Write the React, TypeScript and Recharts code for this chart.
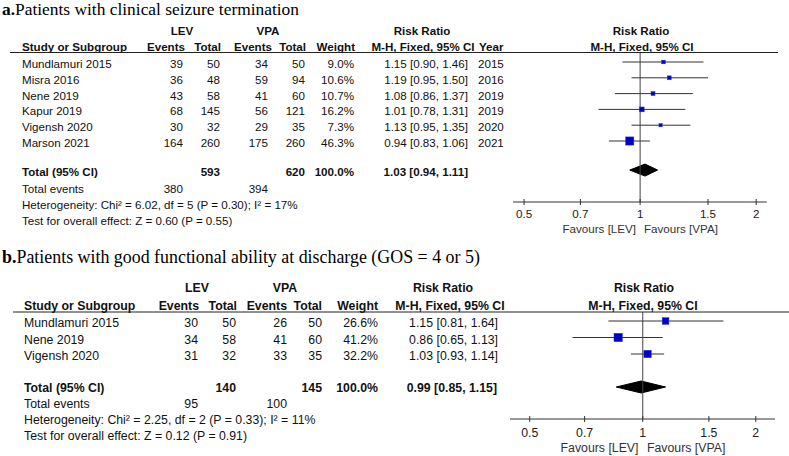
import React from "react";
import { ComposedChart, XAxis, YAxis, Scatter, Line, Area, ReferenceLine } from "recharts";

// panel a: clinical seizure termination
const studiesA = ["Mundlamuri 2015", "Misra 2016", "Nene 2019", "Kapur 2019", "Vigensh 2020", "Marson 2021"];
const levEventsA = [39, 36, 43, 68, 30, 164];
const levTotalA = [50, 48, 58, 145, 32, 260];
const vpaEventsA = [34, 59, 41, 56, 29, 175];
const vpaTotalA = [50, 94, 60, 121, 35, 260];
const weightA = [9.0, 10.6, 10.7, 16.2, 7.3, 46.3];
const rrA = [1.15, 1.19, 1.08, 1.01, 1.13, 0.94];
const loA = [0.9, 0.95, 0.86, 0.78, 0.95, 0.83];
const hiA = [1.46, 1.5, 1.37, 1.31, 1.35, 1.06];
const yearA = [2015, 2016, 2019, 2019, 2020, 2021];
const pooledA = [1.03, 0.94, 1.11];
const sumTotalA = [593, 620];
const sumEventsA = [380, 394];
const hetA = "Heterogeneity: Chi² = 6.02, df = 5 (P = 0.30); I² = 17%";
const testA = "Test for overall effect: Z = 0.60 (P = 0.55)";

// panel b: good functional ability at discharge
const studiesB = ["Mundlamuri 2015", "Nene 2019", "Vigensh 2020"];
const levEventsB = [30, 34, 31];
const levTotalB = [50, 58, 32];
const vpaEventsB = [26, 41, 33];
const vpaTotalB = [50, 60, 35];
const weightB = [26.6, 41.2, 32.2];
const rrB = [1.15, 0.86, 1.03];
const loB = [0.81, 0.65, 0.93];
const hiB = [1.64, 1.13, 1.14];
const pooledB = [0.99, 0.85, 1.15];
const sumTotalB = [140, 145];
const sumEventsB = [95, 100];
const hetB = "Heterogeneity: Chi² = 2.25, df = 2 (P = 0.33); I² = 11%";
const testB = "Test for overall effect: Z = 0.12 (P = 0.91)";

const axisTicks = [0.5, 0.7, 1, 1.5, 2];

const SANS = "'Liberation Sans', Arial, sans-serif";
const SERIF = "'Liberation Serif', 'Times New Roman', serif";
const W = 789;

const f2 = (v: number) => v.toFixed(2);
const ci = (r: number, l: number, h: number) => `${f2(r)} [${f2(l)}, ${f2(h)}]`;

type Layout = {
  height: number;
  plotTop: number;
  plotLeft: number;
  plotRight: number;
  axisH: number;
  xDomain: [number, number];
  row0: number;
  rowH: number;
  totalSlot: number;
  sqK: number;
  fs: number;
  labelDy: number;
};

function T({ x, y, a = "start", b = false, s, fill = "#111", children }: any) {
  return (
    <text x={x} y={y} textAnchor={a} fontWeight={b ? "bold" : "normal"} fontSize={s} fontFamily={SANS} fill={fill}>
      {children}
    </text>
  );
}

function ForestChart({ L, rr, lo, hi, w, pooled }: { L: Layout; rr: number[]; lo: number[]; hi: number[]; w: number[]; pooled: number[] }) {
  const plotBottom = L.height - L.axisH;
  const yDomain: [number, number] = [-(L.row0 - L.plotTop) / L.rowH, (plotBottom - L.row0) / L.rowH];
  const points = rr.map((v, i) => ({ x: v, y: i, w: w[i] }));
  const halfH = 6 / L.rowH;
  const diamond = [
    { x: pooled[1], band: [L.totalSlot, L.totalSlot] },
    { x: pooled[0], band: [L.totalSlot - halfH, L.totalSlot + halfH] },
    { x: pooled[2], band: [L.totalSlot, L.totalSlot] },
  ];

  const Square = (p: any) => {
    const s = L.sqK * Math.sqrt(p.payload.w);
    return <rect x={p.cx - s / 2} y={p.cy - s / 2} width={s} height={s} fill="#0000C8" stroke="#3030d8" strokeWidth={0.5} />;
  };

  const Tick = (p: any) => (
    <g>
      <line x1={p.x} x2={p.x} y1={p.y - 3} y2={p.y + 3} stroke="#333" />
      <text x={p.x} y={p.y + L.labelDy} textAnchor="middle" fontSize={L.fs} fontFamily={SANS} fill="#222">
        {p.payload.value}
      </text>
    </g>
  );

  return (
    <ComposedChart
      width={W}
      height={L.height}
      margin={{ top: L.plotTop, left: L.plotLeft, right: W - L.plotRight, bottom: 0 }}
    >
      <XAxis
        type="number"
        dataKey="x"
        scale="log"
        domain={L.xDomain}
        allowDataOverflow
        ticks={axisTicks}
        interval={0}
        height={L.axisH}
        tickSize={0}
        tickMargin={0}
        tickLine={false}
        axisLine={{ stroke: "#333" }}
        tick={Tick}
      />
      <YAxis type="number" dataKey="y" domain={yDomain} reversed hide width={0} allowDataOverflow />
      {rr.map((_, i) => (
        <Line
          key={i}
          data={[
            { x: lo[i], y: i },
            { x: hi[i], y: i },
          ]}
          dataKey="y"
          type="linear"
          stroke="#333"
          strokeWidth={1}
          dot={false}
          activeDot={false}
          isAnimationActive={false}
        />
      ))}
      <ReferenceLine x={1} stroke="#444" strokeWidth={1} />
      <Scatter data={points} shape={Square} isAnimationActive={false} />
      <Area
        data={diamond}
        dataKey="band"
        type="linear"
        stroke="#000"
        fill="#000"
        fillOpacity={1}
        dot={false}
        activeDot={false}
        isAnimationActive={false}
      />
    </ComposedChart>
  );
}

const layoutA: Layout = {
  height: 240,
  plotTop: 52.5,
  plotLeft: 513,
  plotRight: 766.7,
  axisH: 38,
  xDomain: [0.468, 2.13],
  row0: 62,
  rowH: 15.8,
  totalSlot: 6.84,
  sqK: 1.2,
  fs: 11.6,
  labelDy: 16,
};

const layoutB: Layout = {
  height: 216,
  plotTop: 72,
  plotLeft: 510,
  plotRight: 775,
  axisH: 37,
  xDomain: [0.443, 2.25],
  row0: 81,
  rowH: 16.5,
  totalSlot: 4,
  sqK: 1.3,
  fs: 12.3,
  labelDy: 18.3,
};

function PanelA() {
  const L = layoutA;
  const s = L.fs;
  const rowY = (i: number) => L.row0 + i * L.rowH + 6;
  const totY = 176;
  return (
    <div style={{ position: "absolute", left: 0, top: 0, width: W, height: L.height }}>
      <ForestChart L={L} rr={rrA} lo={loA} hi={hiA} w={weightA} pooled={pooledA} />
      <svg width={W} height={L.height} style={{ position: "absolute", left: 0, top: 0, pointerEvents: "none" }}>
        <text x={2} y={15} fontFamily={SERIF} fontSize={17.4} fill="#000">
          <tspan fontWeight="bold">a.</tspan>Patients with clinical seizure termination
        </text>
        <T x={182} y={35} a="middle" b s={s}>LEV</T>
        <T x={268} y={35} a="middle" b s={s}>VPA</T>
        <T x={422} y={35} a="middle" b s={s}>Risk Ratio</T>
        <T x={641} y={35} a="middle" b s={s}>Risk Ratio</T>
        <T x={22} y={50.5} b s={s}>Study or Subgroup</T>
        <T x={185} y={50.5} a="end" b s={s}>Events</T>
        <T x={221} y={50.5} a="end" b s={s}>Total</T>
        <T x={272} y={50.5} a="end" b s={s}>Events</T>
        <T x={306} y={50.5} a="end" b s={s}>Total</T>
        <T x={355} y={50.5} a="end" b s={s}>Weight</T>
        <T x={423} y={50.5} a="middle" b s={s}>M-H, Fixed, 95% CI</T>
        <T x={479} y={50.5} b s={s}>Year</T>
        <T x={642} y={50.5} a="middle" b s={s}>M-H, Fixed, 95% CI</T>
        <line x1={10} x2={778} y1={52.5} y2={52.5} stroke="#222" strokeWidth={1} />
        {studiesA.map((name, i) => (
          <g key={name}>
            <T x={22} y={rowY(i)} s={s}>{name}</T>
            <T x={183} y={rowY(i)} a="end" s={s}>{levEventsA[i]}</T>
            <T x={220} y={rowY(i)} a="end" s={s}>{levTotalA[i]}</T>
            <T x={268} y={rowY(i)} a="end" s={s}>{vpaEventsA[i]}</T>
            <T x={305} y={rowY(i)} a="end" s={s}>{vpaTotalA[i]}</T>
            <T x={354} y={rowY(i)} a="end" s={s}>{weightA[i].toFixed(1)}%</T>
            <T x={468} y={rowY(i)} a="end" s={s}>{ci(rrA[i], loA[i], hiA[i])}</T>
            <T x={478} y={rowY(i)} s={s}>{yearA[i]}</T>
          </g>
        ))}
        <T x={22} y={totY} b s={s}>Total (95% CI)</T>
        <T x={220} y={totY} a="end" b s={s}>{sumTotalA[0]}</T>
        <T x={305} y={totY} a="end" b s={s}>{sumTotalA[1]}</T>
        <T x={354} y={totY} a="end" b s={s}>100.0%</T>
        <T x={468} y={totY} a="end" b s={s}>{ci(pooledA[0], pooledA[1], pooledA[2])}</T>
        <T x={22} y={193} s={s}>Total events</T>
        <T x={183} y={193} a="end" s={s}>{sumEventsA[0]}</T>
        <T x={268} y={193} a="end" s={s}>{sumEventsA[1]}</T>
        <T x={22} y={209} s={s}>{hetA}</T>
        <T x={22} y={225} s={s}>{testA}</T>
        <T x={636} y={233} a="end" s={s} fill="#333">Favours [LEV]</T>
        <T x={644} y={233} s={s} fill="#333">Favours [VPA]</T>
      </svg>
    </div>
  );
}

function PanelB() {
  const L = layoutB;
  const s = L.fs;
  const rowY = (i: number) => L.row0 + i * L.rowH + 6.3;
  const totY = 152.3;
  return (
    <div style={{ position: "absolute", left: 0, top: 240, width: W, height: L.height }}>
      <ForestChart L={L} rr={rrB} lo={loB} hi={hiB} w={weightB} pooled={pooledB} />
      <svg width={W} height={L.height} style={{ position: "absolute", left: 0, top: 0, pointerEvents: "none" }}>
        <text x={2} y={23} fontFamily={SERIF} fontSize={17.9} fill="#000">
          <tspan fontWeight="bold">b.</tspan>Patients with good functional ability at discharge (GOS = 4 or 5)
        </text>
        <T x={197} y={52.3} a="middle" b s={s}>LEV</T>
        <T x={285} y={52.3} a="middle" b s={s}>VPA</T>
        <T x={443} y={52.3} a="middle" b s={s}>Risk Ratio</T>
        <T x={644} y={52.3} a="middle" b s={s}>Risk Ratio</T>
        <T x={24} y={69.5} b s={s}>Study or Subgroup</T>
        <T x={199} y={69.5} a="end" b s={s}>Events</T>
        <T x={237} y={69.5} a="end" b s={s}>Total</T>
        <T x={287} y={69.5} a="end" b s={s}>Events</T>
        <T x={322} y={69.5} a="end" b s={s}>Total</T>
        <T x={378} y={69.5} a="end" b s={s}>Weight</T>
        <T x={450} y={69.5} a="middle" b s={s}>M-H, Fixed, 95% CI</T>
        <T x={643} y={69.5} a="middle" b s={s}>M-H, Fixed, 95% CI</T>
        <line x1={13} x2={789} y1={72} y2={72} stroke="#222" strokeWidth={1} />
        {studiesB.map((name, i) => (
          <g key={name}>
            <T x={24} y={rowY(i)} s={s}>{name}</T>
            <T x={198} y={rowY(i)} a="end" s={s}>{levEventsB[i]}</T>
            <T x={236} y={rowY(i)} a="end" s={s}>{levTotalB[i]}</T>
            <T x={287} y={rowY(i)} a="end" s={s}>{vpaEventsB[i]}</T>
            <T x={322} y={rowY(i)} a="end" s={s}>{vpaTotalB[i]}</T>
            <T x={378} y={rowY(i)} a="end" s={s}>{weightB[i].toFixed(1)}%</T>
            <T x={498} y={rowY(i)} a="end" s={s}>{ci(rrB[i], loB[i], hiB[i])}</T>
          </g>
        ))}
        <T x={24} y={totY} b s={s}>Total (95% CI)</T>
        <T x={236} y={totY} a="end" b s={s}>{sumTotalB[0]}</T>
        <T x={322} y={totY} a="end" b s={s}>{sumTotalB[1]}</T>
        <T x={378} y={totY} a="end" b s={s}>100.0%</T>
        <T x={497} y={totY} a="end" b s={s}>{ci(pooledB[0], pooledB[1], pooledB[2])}</T>
        <T x={24} y={168} s={s}>Total events</T>
        <T x={198} y={168} a="end" s={s}>{sumEventsB[0]}</T>
        <T x={287} y={168} a="end" s={s}>{sumEventsB[1]}</T>
        <T x={24} y={184} s={s}>{hetB}</T>
        <T x={24} y={200} s={s}>{testB}</T>
        <T x={638.5} y={212.3} a="end" s={s} fill="#333">Favours [LEV]</T>
        <T x={647} y={212.3} s={s} fill="#333">Favours [VPA]</T>
      </svg>
    </div>
  );
}

export default function App() {
  return (
    <div style={{ position: "absolute", left: 0, top: 0, width: W, height: 456, background: "#fff", overflow: "hidden" }}>
      <PanelA />
      <PanelB />
    </div>
  );
}
